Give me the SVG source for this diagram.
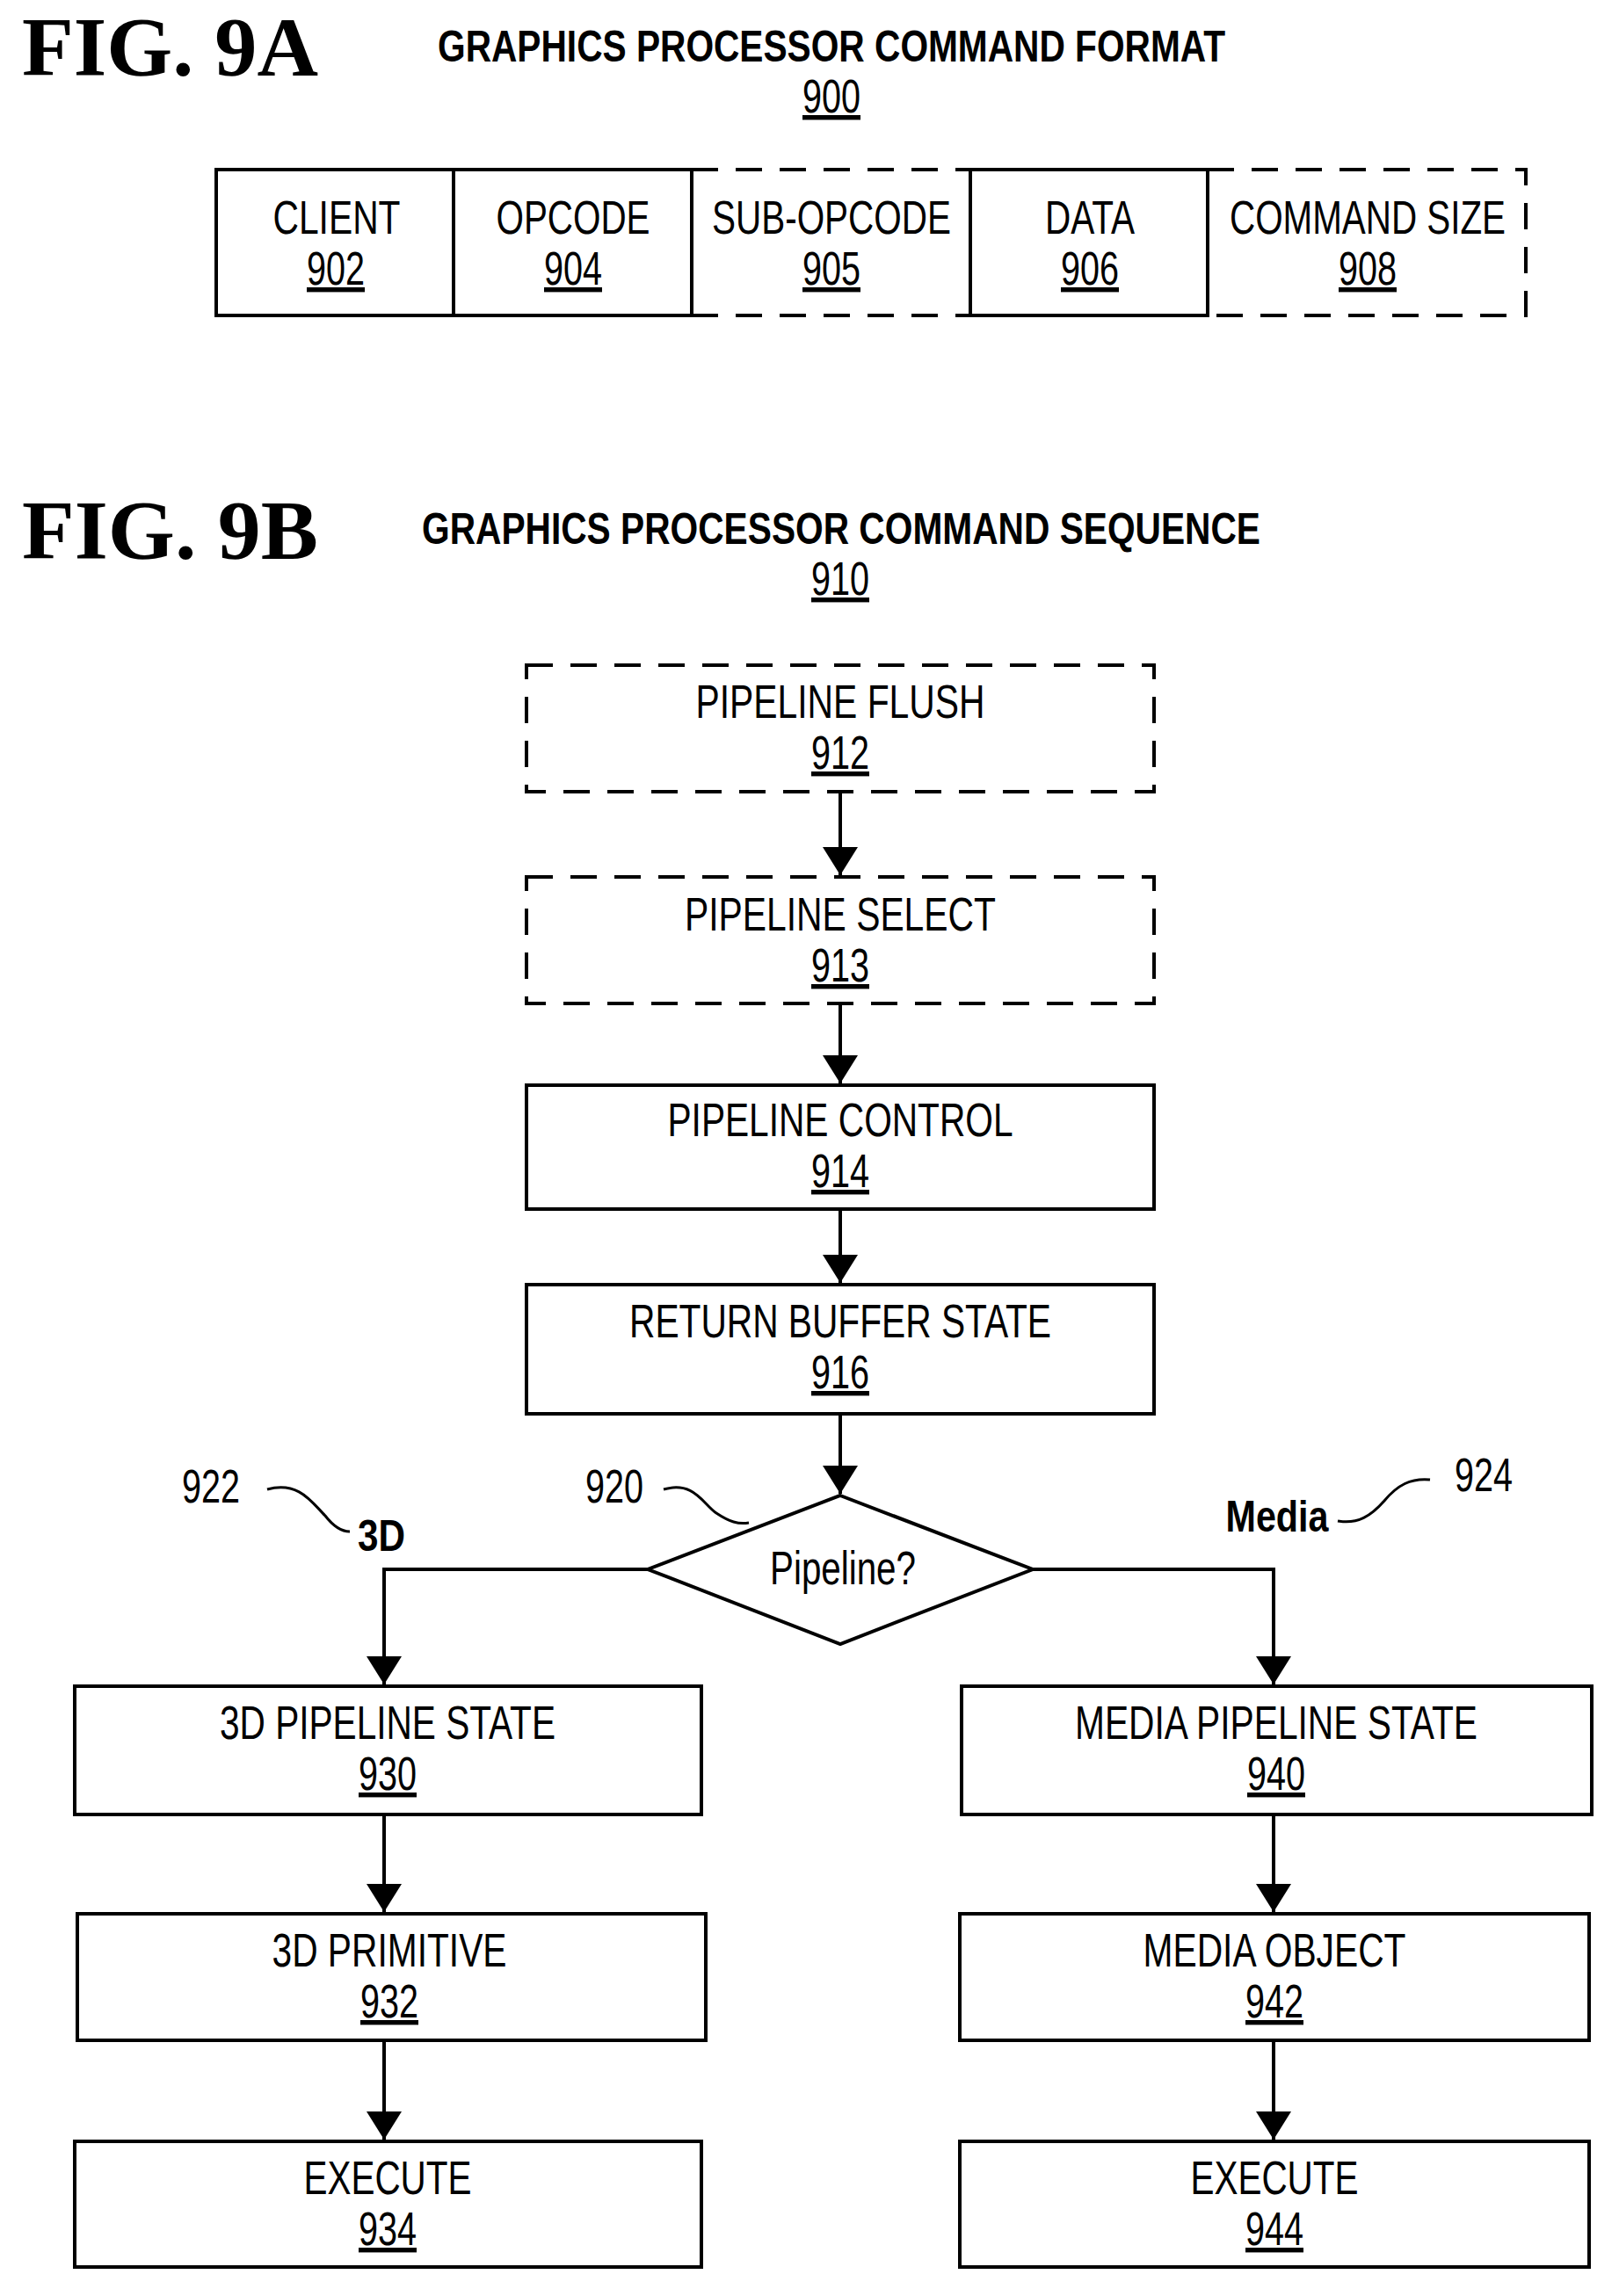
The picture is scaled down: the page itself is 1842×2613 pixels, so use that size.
<svg xmlns="http://www.w3.org/2000/svg" width="1842" height="2613" viewBox="0 0 1842 2613">
<style>
.b{fill:#fff;stroke:#000;stroke-width:4}
.d{fill:none;stroke:#000;stroke-width:4;stroke-dasharray:30 20}
.t{font-family:"Liberation Sans",Arial,sans-serif;font-size:54px;text-anchor:middle;fill:#000}
.n{text-decoration:underline}
.h{font-family:"Liberation Sans",Arial,sans-serif;font-weight:bold;font-size:50px;text-anchor:middle}
.f{font-family:"Liberation Serif","Times New Roman",serif;font-weight:bold;font-size:96px}
.c{fill:none;stroke:#000;stroke-width:4}
.s{fill:none;stroke:#000;stroke-width:3}
</style>
<defs><marker id="a" markerWidth="8" markerHeight="10" refX="8" refY="5" orient="auto" markerUnits="strokeWidth"><path d="M0,0 L8,5 L0,10 z" fill="#000"/></marker></defs>
<rect width="1842" height="2613" fill="#fff"/>
<text class="f" x="25" y="86" textLength="337" lengthAdjust="spacingAndGlyphs">FIG. 9A</text>
<text class="h" x="946" y="70" textLength="896" lengthAdjust="spacingAndGlyphs">GRAPHICS PROCESSOR COMMAND FORMAT</text>
<text class="t n" x="946" y="128" textLength="66" lengthAdjust="spacingAndGlyphs">900</text>
<g id="n902"><rect class="b" x="246" y="193" width="270" height="166"/><text class="t" x="383" y="266" textLength="145" lengthAdjust="spacingAndGlyphs">CLIENT</text><text class="t n" x="382" y="324" textLength="66" lengthAdjust="spacingAndGlyphs">902</text></g>
<g id="n904"><rect class="b" x="516" y="193" width="271" height="166"/><text class="t" x="652" y="266" textLength="175" lengthAdjust="spacingAndGlyphs">OPCODE</text><text class="t n" x="652" y="324" textLength="66" lengthAdjust="spacingAndGlyphs">904</text></g>
<g id="n905"><path class="d" d="M787,193 H1104 M787,359 H1104"/><text class="t" x="946" y="266" textLength="272" lengthAdjust="spacingAndGlyphs">SUB-OPCODE</text><text class="t n" x="946" y="324" textLength="66" lengthAdjust="spacingAndGlyphs">905</text></g>
<g id="n906"><rect class="b" x="1104" y="193" width="270" height="166"/><text class="t" x="1240" y="266" textLength="102" lengthAdjust="spacingAndGlyphs">DATA</text><text class="t n" x="1240" y="324" textLength="66" lengthAdjust="spacingAndGlyphs">906</text></g>
<g id="n908"><path class="d" d="M1374,193 H1736 V359 H1374"/><text class="t" x="1556" y="266" textLength="314" lengthAdjust="spacingAndGlyphs">COMMAND SIZE</text><text class="t n" x="1556" y="324" textLength="66" lengthAdjust="spacingAndGlyphs">908</text></g>

<text class="f" x="25" y="636" textLength="337" lengthAdjust="spacingAndGlyphs">FIG. 9B</text>
<text class="h" x="957" y="619" textLength="954" lengthAdjust="spacingAndGlyphs">GRAPHICS PROCESSOR COMMAND SEQUENCE</text>
<text class="t n" x="956" y="677" textLength="66" lengthAdjust="spacingAndGlyphs">910</text>

<g id="n912"><rect class="d" x="599" y="757" width="714" height="144"/><text class="t" x="956" y="817" textLength="329" lengthAdjust="spacingAndGlyphs">PIPELINE FLUSH</text><text class="t n" x="956" y="875" textLength="66" lengthAdjust="spacingAndGlyphs">912</text></g>
<g id="n913"><rect class="d" x="599" y="998" width="714" height="144"/><text class="t" x="956" y="1059" textLength="354" lengthAdjust="spacingAndGlyphs">PIPELINE SELECT</text><text class="t n" x="956" y="1117" textLength="66" lengthAdjust="spacingAndGlyphs">913</text></g>
<g id="n914"><rect class="b" x="599" y="1235" width="714" height="141"/><text class="t" x="956" y="1293" textLength="393" lengthAdjust="spacingAndGlyphs">PIPELINE CONTROL</text><text class="t n" x="956" y="1351" textLength="66" lengthAdjust="spacingAndGlyphs">914</text></g>
<g id="n916"><rect class="b" x="599" y="1462" width="714" height="147"/><text class="t" x="956" y="1522" textLength="480" lengthAdjust="spacingAndGlyphs">RETURN BUFFER STATE</text><text class="t n" x="956" y="1580" textLength="66" lengthAdjust="spacingAndGlyphs">916</text></g>
<g id="n920"><path class="b" d="M956,1702 L1175,1786 L956,1871 L737,1786 Z"/><text class="t" x="959" y="1803" textLength="166" lengthAdjust="spacingAndGlyphs">Pipeline?</text></g>
<g id="n930"><rect class="b" x="85" y="1919" width="713" height="146"/><text class="t" x="441" y="1979" textLength="382" lengthAdjust="spacingAndGlyphs">3D PIPELINE STATE</text><text class="t n" x="441" y="2037" textLength="66" lengthAdjust="spacingAndGlyphs">930</text></g>
<g id="n940"><rect class="b" x="1094" y="1919" width="717" height="146"/><text class="t" x="1452" y="1979" textLength="458" lengthAdjust="spacingAndGlyphs">MEDIA PIPELINE STATE</text><text class="t n" x="1452" y="2037" textLength="66" lengthAdjust="spacingAndGlyphs">940</text></g>
<g id="n932"><rect class="b" x="88" y="2178" width="715" height="144"/><text class="t" x="443" y="2238" textLength="267" lengthAdjust="spacingAndGlyphs">3D PRIMITIVE</text><text class="t n" x="443" y="2296" textLength="66" lengthAdjust="spacingAndGlyphs">932</text></g>
<g id="n942"><rect class="b" x="1092" y="2178" width="716" height="144"/><text class="t" x="1450" y="2238" textLength="299" lengthAdjust="spacingAndGlyphs">MEDIA OBJECT</text><text class="t n" x="1450" y="2296" textLength="66" lengthAdjust="spacingAndGlyphs">942</text></g>
<g id="n934"><rect class="b" x="85" y="2437" width="713" height="143"/><text class="t" x="441" y="2497" textLength="191" lengthAdjust="spacingAndGlyphs">EXECUTE</text><text class="t n" x="441" y="2555" textLength="66" lengthAdjust="spacingAndGlyphs">934</text></g>
<g id="n944"><rect class="b" x="1092" y="2437" width="716" height="143"/><text class="t" x="1450" y="2497" textLength="191" lengthAdjust="spacingAndGlyphs">EXECUTE</text><text class="t n" x="1450" y="2555" textLength="66" lengthAdjust="spacingAndGlyphs">944</text></g>

<g id="labels">
<text class="t" x="240" y="1710" textLength="66" lengthAdjust="spacingAndGlyphs">922</text>
<text class="t" x="699" y="1710" textLength="66" lengthAdjust="spacingAndGlyphs">920</text>
<text class="t" x="1688" y="1697" textLength="66" lengthAdjust="spacingAndGlyphs">924</text>
<text class="h" x="434" y="1765" textLength="54" lengthAdjust="spacingAndGlyphs">3D</text>
<text class="h" x="1453" y="1743" textLength="117" lengthAdjust="spacingAndGlyphs">Media</text>
<path class="s" d="M304,1695 C340,1685 355,1710 370,1725 C380,1738 390,1743 398,1743"/>
<path class="s" d="M755,1695 C790,1685 800,1712 815,1722 C830,1732 840,1735 852,1733"/>
<path class="s" d="M1522,1731 C1545,1735 1560,1725 1575,1708 C1590,1690 1605,1682 1627,1684"/>
</g>
<g id="connectors">
<path class="c" d="M956,901 V996" marker-end="url(#a)"/>
<path class="c" d="M956,1142 V1233" marker-end="url(#a)"/>
<path class="c" d="M956,1376 V1460" marker-end="url(#a)"/>
<path class="c" d="M956,1609 V1700" marker-end="url(#a)"/>
<path class="c" d="M737,1786 H437 V1917" marker-end="url(#a)"/>
<path class="c" d="M1175,1786 H1449 V1917" marker-end="url(#a)"/>
<path class="c" d="M437,2065 V2176" marker-end="url(#a)"/>
<path class="c" d="M437,2322 V2435" marker-end="url(#a)"/>
<path class="c" d="M1449,2065 V2176" marker-end="url(#a)"/>
<path class="c" d="M1449,2322 V2435" marker-end="url(#a)"/>
</g>
</svg>
